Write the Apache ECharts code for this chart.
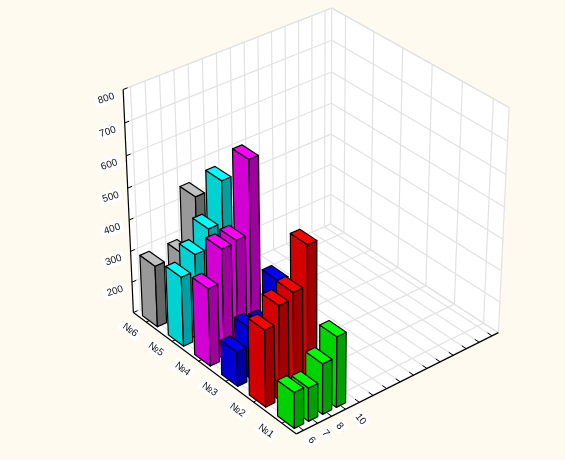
<!DOCTYPE html>
<html><head><meta charset="utf-8">
<style>html,body{margin:0;padding:0;background:#fffaf0}#c{width:565px;height:460px}</style>
<script src="https://cdn.jsdelivr.net/npm/echarts@6/dist/echarts.min.js"></script>
</head><body><div id="c"></div>
<script>
// ---- data ----
const categories = ['№1','№2','№3','№4','№5','№6'];
const yLabels = ['6','7','8','10'];
const zTicks = [100,200,300,400,500,600,700,800];
const yTickCount = 15;
// values at y positions 1..4 (null = no bar)
const no1 = [214,206,260,323];
const no2 = [343,398,418,543];
const no3 = [210,262,252,372];
const no4 = [347,451,458,685];
const no5 = [322,374,435,565];
const no6 = [297,null,296,459];
const rows = [no1,no2,no3,no4,no5,no6];
const palette = [
 {f:'#00d200',s:'#00a000',t:'#00ff00'},
 {f:'#d20000',s:'#a00000',t:'#ff0000'},
 {f:'#0000d2',s:'#0000a0',t:'#0000ff'},
 {f:'#d200d2',s:'#a000a0',t:'#ff00ff'},
 {f:'#00d2d2',s:'#00a0a0',t:'#00ffff'},
 {f:'#999999',s:'#666666',t:'#c0c0c0'}
];
// ---- perspective calibration (box corners -> screen) ----
const uMin=.5,uMax=6.5,vMin=.5,vMax=15.5,wMin=100,wMax=800;
const calib=[
 [uMin,vMin,wMin,297,434],[uMax,vMin,wMin,133,312],[uMin,vMax,wMin,498,333],[uMax,vMax,wMin,331,224],
 [uMax,vMin,wMax,123,90],[uMin,vMax,wMax,509,107],[uMax,vMax,wMax,332,8]
];
function norm(u,v,w){return [(u-uMin)/6,(v-vMin)/15,(w-wMin)/700];}
function solveCam(){
 const A=[],b=[];
 calib.forEach(c=>{const [X,Y,Z]=norm(c[0],c[1],c[2]),x=c[3],y=c[4];
  A.push([X,Y,Z,1,0,0,0,0,-x*X,-x*Y,-x*Z]);b.push(x);
  A.push([0,0,0,0,X,Y,Z,1,-y*X,-y*Y,-y*Z]);b.push(y);});
 const n=11,M=[];
 for(let i=0;i<n;i++){M.push(new Array(n+1).fill(0));
  for(let j=0;j<n;j++)for(let r=0;r<A.length;r++)M[i][j]+=A[r][i]*A[r][j];
  for(let r=0;r<A.length;r++)M[i][n]+=A[r][i]*b[r];}
 for(let i=0;i<n;i++){let p=i;for(let r=i+1;r<n;r++)if(Math.abs(M[r][i])>Math.abs(M[p][i]))p=r;
  [M[i],M[p]]=[M[p],M[i]];
  for(let r=0;r<n;r++){if(r===i)continue;const f=M[r][i]/M[i][i];for(let c=i;c<=n;c++)M[r][c]-=f*M[i][c];}}
 return M.map((row,i)=>row[n]/row[i]);
}
const P=solveCam();
function proj(u,v,w){const [X,Y,Z]=norm(u,v,w);
 const d=P[8]*X+P[9]*Y+P[10]*Z+1;
 return [(P[0]*X+P[1]*Y+P[2]*Z+P[3])/d,(P[4]*X+P[5]*Y+P[6]*Z+P[7])/d];}
// ---- scene ----
function line(a,b,color,width,z){return {type:'line',shape:{x1:a[0],y1:a[1],x2:b[0],y2:b[1]},style:{stroke:color,lineWidth:width},z2:z||0};}
function label(text,p,rotDeg){return {type:'text',x:p[0],y:p[1],rotation:rotDeg*Math.PI/180,z2:20,
 style:{text:text,fontFamily:'"Liberation Sans",Arial,sans-serif',fontSize:10,fill:'#111',align:'center',verticalAlign:'middle',backgroundColor:'#ffffff',padding:[1,3]}};}
function poly(pts,fill,z){return {type:'polygon',shape:{points:pts},style:{fill:fill},z2:z||0};}
function renderScene(){
 const kids=[];
 const grid='#e2e2e2',gw=1.2;
 kids.push(poly([proj(uMax,vMin,wMin),proj(uMax,vMax,wMin),proj(uMax,vMax,wMax),proj(uMax,vMin,wMax)],'#fff'));
 kids.push(poly([proj(uMin,vMax,wMin),proj(uMax,vMax,wMin),proj(uMax,vMax,wMax),proj(uMin,vMax,wMax)],'#fff'));
 kids.push(poly([proj(uMin,vMin,wMin),proj(uMax,vMin,wMin),proj(uMax,vMax,wMin),proj(uMin,vMax,wMin)],'#fff'));
 zTicks.forEach(w=>{
  kids.push(line(proj(uMax,vMin,w),proj(uMax,vMax,w),grid,gw,1));
  kids.push(line(proj(uMin,vMax,w),proj(uMax,vMax,w),grid,gw,1));
 });
 for(let v=1;v<=yTickCount;v++){
  kids.push(line(proj(uMax,v,wMin),proj(uMax,v,wMax),grid,gw,1));
  kids.push(line(proj(uMin,v,wMin),proj(uMax,v,wMin),grid,gw,1));
 }
 categories.forEach((c,i)=>{const u=i+1;
  kids.push(line(proj(u,vMax,wMin),proj(u,vMax,wMax),grid,gw,1));
  kids.push(line(proj(u,vMin,wMin),proj(u,vMax,wMin),grid,gw,1));
 });
 [[uMax,vMax,wMin,uMax,vMax,wMax],[uMax,vMin,wMax,uMax,vMax,wMax],[uMin,vMax,wMax,uMax,vMax,wMax],[uMin,vMax,wMin,uMin,vMax,wMax],
  [uMin,vMax,wMin,uMax,vMax,wMin]].forEach(e=>kids.push(line(proj(e[0],e[1],e[2]),proj(e[3],e[4],e[5]),grid,gw,1)));
 const axis='#000';
 kids.push(line(proj(uMin,vMin,wMin),proj(uMax,vMin,wMin),axis,1.2,5));
 kids.push(line(proj(uMin,vMin,wMin),proj(uMin,vMax,wMin),axis,1.2,5));
 kids.push(line(proj(uMax,vMin,wMin),proj(uMax,vMin,wMax),axis,1.2,5));
 categories.forEach((c,i)=>{const u=i+1,p=proj(u,vMin,wMin);
  kids.push(line(p,proj(u,vMin+.3,wMin),axis,1,5));
  kids.push(label(c,[p[0]-16,p[1]+8],-36));
 });
 for(let v=1;v<=yTickCount;v++){const p=proj(uMin,v,wMin);
  kids.push(line(p,proj(uMin+.15,v,wMin),axis,1,5));
  const t=yLabels[v-1];
  if(t){const e=t.length-1;kids.push(label(t,[p[0]+8+e*7,p[1]+10],-50));}
 }
 zTicks.forEach(w=>{const p=proj(uMax,vMin,w);
  kids.push(line(p,proj(uMax,vMin+.3,w),axis,1,5));
  if(w>wMin)kids.push(label(String(w),[p[0]-17,p[1]+9],18));
 });
 return {type:'group',children:kids};
}
const a=.29,b=.33,shiftU=-.03,shiftV=.05;
function renderBar(params,api){
 const u=api.value(0)+shiftU,v=api.value(1)+shiftV,val=api.value(2),c=palette[api.value(3)];
 const u0=u-a,u1=u+a,v0=v-b,v1=v+b;
 const edge={stroke:'#000',lineWidth:1.2,lineJoin:'round'};
 const face=(pts,fill)=>({type:'polygon',shape:{points:pts.map(q=>proj(q[0],q[1],q[2]))},style:Object.assign({fill:fill},edge)});
 return {type:'group',children:[
  face([[u1,v0,wMin],[u0,v0,wMin],[u0,v0,val],[u1,v0,val]],c.f),
  face([[u0,v0,wMin],[u0,v1,wMin],[u0,v1,val],[u0,v0,val]],c.s),
  face([[u0,v0,val],[u0,v1,val],[u1,v1,val],[u1,v0,val]],c.t)
 ]};
}
const barData=[];
for(let i=rows.length-1;i>=0;i--)for(let j=rows[i].length-1;j>=0;j--)
 if(rows[i][j]!=null)barData.push([i+1,j+1,rows[i][j],i]);
const chart=echarts.init(document.getElementById('c'),null,{renderer:'canvas'});
chart.setOption({
 animation:false,backgroundColor:'#fffaf0',
 series:[
  {type:'custom',coordinateSystem:'none',silent:true,z:1,data:[[0]],renderItem:renderScene},
  {type:'custom',coordinateSystem:'none',silent:true,z:2,data:barData,renderItem:renderBar}
 ]
});
</script></body></html>
